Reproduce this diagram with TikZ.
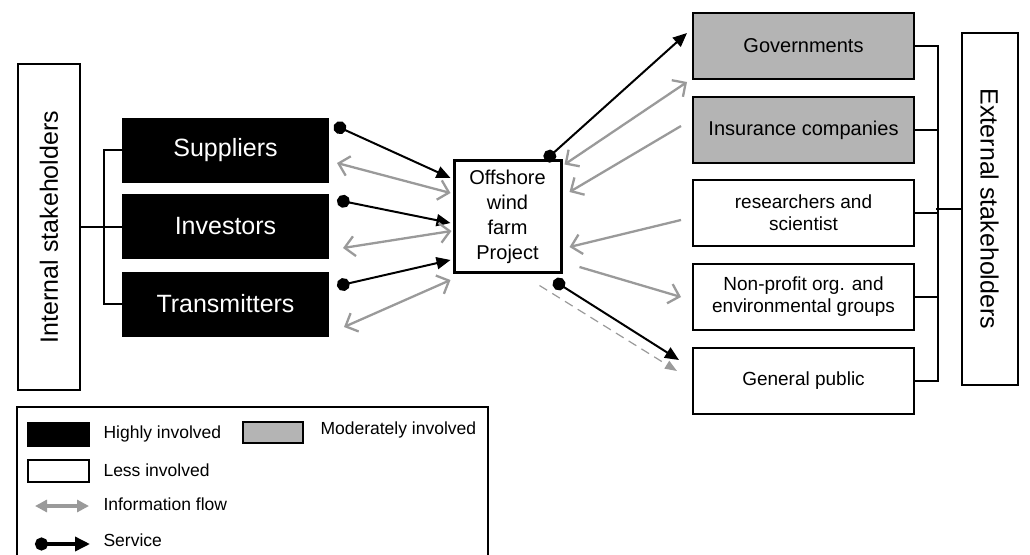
\documentclass[tikz,border=0pt]{standalone}
\usepackage{fontspec}
\setmainfont{Liberation Sans}
\usetikzlibrary{arrows.meta}
\definecolor{modgray}{HTML}{B4B4B4}
\definecolor{flow}{HTML}{9A9A9A}

\begin{document}
\begin{tikzpicture}[x=1pt, y=-1pt,
      blk/.style={draw, line width=2, fill=black, text=white, minimum width=205, minimum height=63, font=\fontsize{25}{30}\selectfont},
      grp/.style={draw, line width=2, minimum width=221, minimum height=66, align=center, font=\fontsize{19}{22}\selectfont},
      side/.style={draw, line width=2, minimum height=60, font=\fontsize{25}{30}\selectfont},
      srv/.style={line width=2, {Circle[length=13]}-{Triangle[length=14,width=12]}},
      info/.style={draw=flow, line width=2.3, >={Straight Barb[length=10,width=20]}},
      lgd/.style={anchor=west, font=\fontsize{17.5}{20}\selectfont}
    ]
    \useasboundingbox (0,0) rectangle (1030,554);

    % internal side
    \node[side, rotate=90, minimum width=326, minimum height=62] (int) at (49,227) {Internal stakeholders};
    \node[blk] (sup) at (225.5,150) {Suppliers};
    \node[blk] (inv) at (225.5,226.5) {Investors};
    \node[blk] (tra) at (225.5,304) {Transmitters};
    \draw[line width=2] (sup.west) -- ++(-18,0) |- (tra.west);
    \draw[line width=2] (int.south) -- (int.south -| inv.west);

    % project
    \node[draw, line width=3, minimum width=107, minimum height=112, align=center, font=\fontsize{20}{25}\selectfont] (proj) at (507.5,216.5) {Offshore\\wind\\farm\\Project};

    % external side
    \node[grp, fill=modgray, font=\fontsize{20}{24}\selectfont] (gov) at (803.5,46) {Governments};
    \node[grp, fill=modgray, font=\fontsize{20}{24}\selectfont] (ins) at (803.5,130) {Insurance companies};
    \node[grp] (res) at (803.5,213) {researchers and\\scientist};
    \node[grp] (npo) at (803.5,297) {Non-profit org. and\\environmental groups};
    \node[grp] (pub) at (803.5,381) {General public};
    \node[side, rotate=-90, minimum width=352, minimum height=56] (ext) at (989.5,209) {External stakeholders};
    \draw[line width=2] (gov.east) -- ++(23,0) |- (pub.east);
    \foreach \b in {ins,res,npo} { \draw[line width=2] (\b.east) -- ++(23,0); }
    \draw[line width=2] (ext.south) -- ++(-25,0);

    % services
    \draw[srv] ([shift={(5,-25)}]sup.east) -- ([shift={(-2,-38.5)}]proj.west);
    \draw[srv] ([shift={(8,-26.5)}]inv.east) -- ([shift={(-2,6.5)}]proj.west);
    \draw[srv] ([shift={(8,-18)}]tra.east) -- ([shift={(-2,43.5)}]proj.west);
    \draw[srv] ([shift={(-17.5,1.5)}]proj.north east) -- ([shift={(-5,-13)}]gov.west);
    \draw[srv] ([shift={(-9,6.5)}]proj.south east) -- ([shift={(-13,-21)}]pub.west);

    % information flow
    \draw[info, <->] ([shift={(8,13)}]sup.east) -- ([shift={(-2,-23.5)}]proj.west);
    \draw[info, <->] ([shift={(14,21.5)}]inv.east) -- ([shift={(-1,14.5)}]proj.west);
    \draw[info, <->] ([shift={(15,23)}]tra.east) -- ([shift={(-2,63.5)}]proj.west);
    \draw[info, <->] ([shift={(2,5.5)}]proj.north east) -- ([shift={(-5,36)}]gov.west);
    \draw[info, ->] ([shift={(-11,-4)}]ins.west) -- ([shift={(7,-24.5)}]proj.east);
    \draw[info, ->] ([shift={(-11,7)}]res.west) -- ([shift={(7,30.5)}]proj.east);
    \draw[info, ->] ([shift={(17,50.5)}]proj.east) -- ([shift={(-11,0)}]npo.west);
    \draw[flow, line width=1.2, dash pattern=on 9 off 6, -{Triangle[length=12,width=9]}] ([shift={(-23,11.5)}]proj.south east) -- ([shift={(-15,-10)}]pub.west);

    % legend
    \draw[line width=1.5] (17,556) |- (488,407) -- (488,556);
    \node[draw, line width=1.5, fill=black, minimum width=61, minimum height=23] (lhi) at (58.5,434.5) {};
    \node[lgd] (thi) at (100,434) {Highly involved};
    \node[draw, line width=2, fill=modgray, minimum width=60, minimum height=21] (lmo) at (273,432.5) {};
    \node[lgd] (tmo) at (317,430) {Moderately involved};
    \node[draw, line width=2, minimum width=61, minimum height=22] (llo) at (58.5,471) {};
    \node[lgd] (tlo) at (100,470) {Less involved};
    \coordinate (lia) at (35,506);
    \coordinate (lib) at (89,506);
    \draw[flow, line width=4.5, {Triangle[length=12,width=12]}-{Triangle[length=12,width=12]}] (lia) -- (lib);
    \node[lgd] (tif) at (100,504) {Information flow};
    \coordinate (lsa) at (35,544);
    \coordinate (lsb) at (90,544);
    \draw[line width=3.5, {Circle[length=13]}-{Triangle[length=15,width=14]}] (lsa) -- (lsb);
    \node[lgd] (tsv) at (100,540) {Service};
  \end{tikzpicture}
\end{document}
